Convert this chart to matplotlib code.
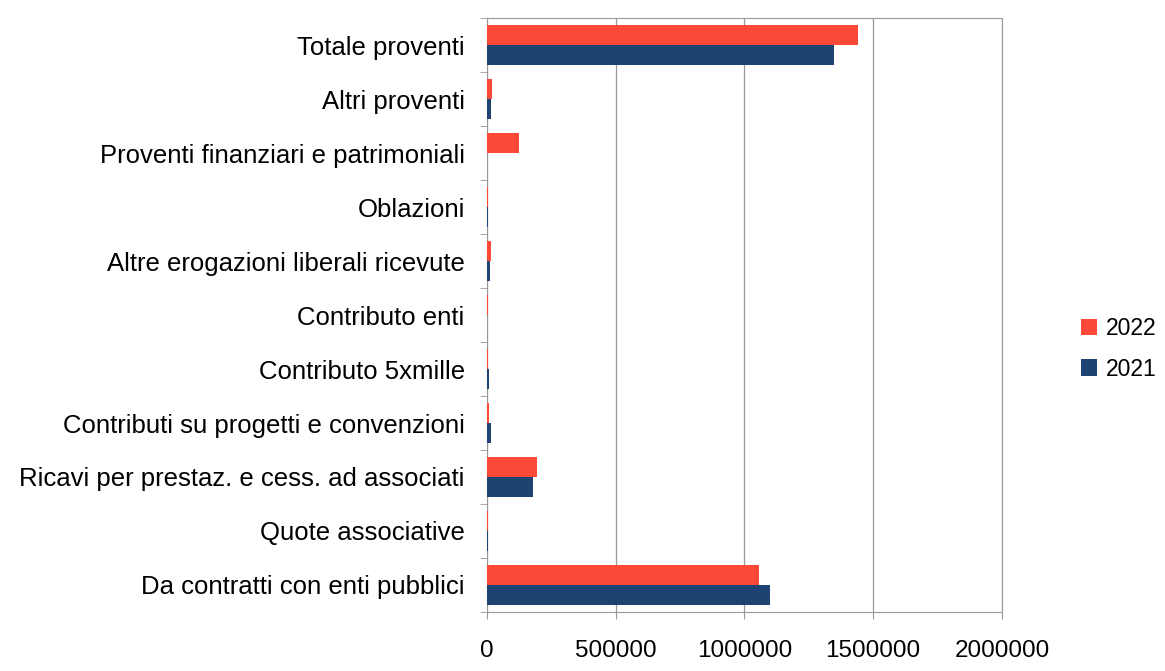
import numpy as np
import matplotlib.pyplot as plt

plt.rcParams['font.family'] = ['Liberation Sans', 'DejaVu Sans']

# categorie dal basso verso l'alto
categorie = ['Da contratti con enti pubblici', 'Quote associative',
             'Ricavi per prestaz. e cess. ad associati',
             'Contributi su progetti e convenzioni', 'Contributo 5xmille',
             'Contributo enti', 'Altre erogazioni liberali ricevute',
             'Oblazioni', 'Proventi finanziari e patrimoniali',
             'Altri proventi', 'Totale proventi']
val_2022 = [1058000, 3000, 195000, 6000, 5000, 5000, 15000, 3000, 125000, 18000, 1442000]
val_2021 = [1100000, 3000, 178000, 16000, 6000, 1000, 13000, 3000, 2000, 14000, 1348000]
xticks = [0, 500000, 1000000, 1500000, 2000000]

rosso = '#fa4a37'
blu = '#1e4372'

fig = plt.figure(figsize=(11.65, 6.71), dpi=100)
ax = fig.add_axes([0.418, 0.088, 0.442, 0.885])

y = np.arange(len(categorie))
h = 0.37
ax.barh(y + h / 2, val_2022, height=h, color=rosso, label='2022', zorder=3)
ax.barh(y - h / 2, val_2021, height=h, color=blu, label='2021', zorder=3)

ax.set_xlim(0, 2000000)
ax.set_ylim(-0.5, len(categorie) - 0.5)
ax.set_xticks(xticks)
ax.set_xticklabels([str(v) for v in xticks], fontsize=17.5)
ax.set_yticks(y)
ax.set_yticklabels(categorie, fontsize=18.5)
ax.set_yticks(np.arange(-0.5, len(categorie), 1), minor=True)
ax.tick_params(axis='y', which='major', length=0, pad=16)
ax.tick_params(axis='y', which='minor', length=5, color='#999999')
ax.tick_params(axis='x', length=5, color='#999999', pad=15)
ax.grid(axis='x', color='#999999', linewidth=0.9, zorder=0)
for s in ax.spines.values():
    s.set_color('#999999')

fig.legend(loc='center left', bbox_to_anchor=(0.91, 0.48), frameon=False,
           fontsize=16.5, handlelength=0.7, handleheight=0.7, handletextpad=0.4,
           labelspacing=0.75)

fig.savefig('out.png', dpi=100)
